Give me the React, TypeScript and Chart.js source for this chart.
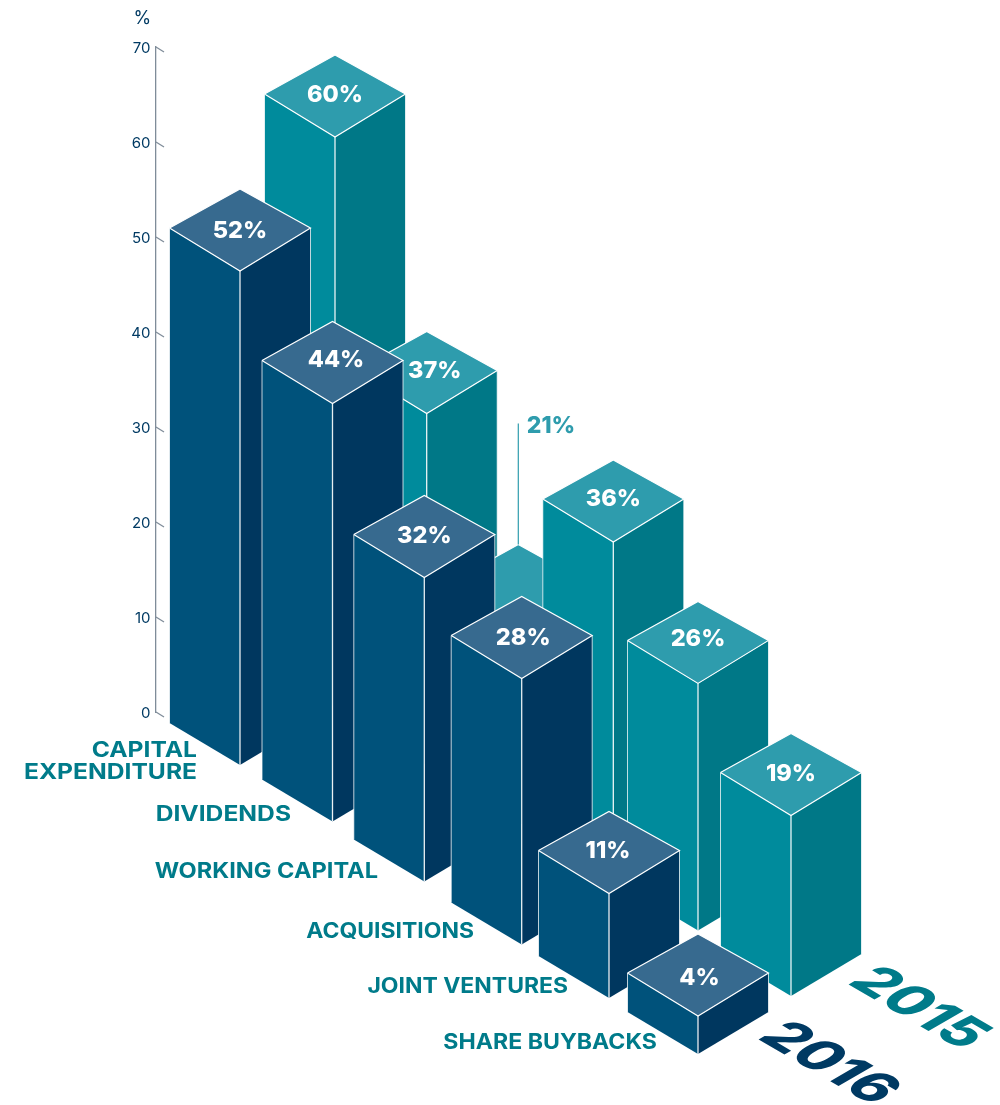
import React, { useEffect, useRef } from "react";
import { Chart, registerables, BarController } from "chart.js";

Chart.register(...registerables);

// Survey data: share of respondents per use of cash, by year
const categories = [
  ["CAPITAL", "EXPENDITURE"],
  "DIVIDENDS",
  "WORKING CAPITAL",
  "ACQUISITIONS",
  "JOINT VENTURES",
  "SHARE BUYBACKS",
];
const values2015 = [60, 37, 21, 36, 26, 19];
const values2016 = [52, 44, 32, 28, 11, 4];
const yTicks = [0, 10, 20, 30, 40, 50, 60, 70];

// Isometric layout
const FONT = "Inter, 'Open Sans', sans-serif";
const TEAL_TEXT = "#007B8A";
const NAVY_TEXT = "#003A63";
const HALF_W = 70.5;
const SIDE_RISE = 43; // front corner of the lid to its side corners
const LID_DEPTH = 82; // front corner of the lid to its back corner
const FLOOR_SIDE_RISE = 42; // front corner of the footprint to its side corners
const ROW_DROP = 57.6; // floor drop from one row to the next
const AXIS_LEFT = 156;
const CATEGORY_STEP = 91.6;

type Look = {
  left: string;
  right: string;
  top: string;
  shiftX: number;
  drop: number;
  rowX: number[];
  rowY: number[];
  labelX: number[];
  labelY: number[];
  callout: number;
};

const look2016: Look = {
  left: "#00527B",
  right: "#00375F",
  top: "#376A8F",
  shiftX: 38.2,
  drop: 53,
  rowX: [0, 0.9, 1.1, 6.9, 2.6, 0],
  rowY: [0, -1.1, 1.3, 6.7, 2.6, 1],
  labelX: [0, 3.5, 0, 1.5, -1, 1.5],
  labelY: [2, -2, 0, 1, -1, 4],
  callout: -1,
};
const look2015: Look = {
  left: "#008B9C",
  right: "#007887",
  top: "#2E9CAD",
  shiftX: 133.2,
  drop: -4,
  rowX: [0, 0.1, 0.1, 3.5, -3.4, -2],
  rowY: [-1, -0.6, 2.8, 3.2, -8, 0],
  labelX: [0, 8, 0, 0, 0, 0],
  labelY: [0, -1, 0, -1, -2, 0],
  callout: 2,
};

// Right end, lift and horizontal stretch of each category caption, relative to the row's front corner
const captionOffset = [
  [43, 3, 1.145],
  [41.5, 7, 1.145],
  [46.3, 10, 1.097],
  [47.7, 13, 1.068],
  [41, 11, 1.068],
  [41, 11, 1.075],
];

function drawPoly(ctx: CanvasRenderingContext2D, pts: number[][], fill: string) {
  ctx.beginPath();
  pts.forEach(([x, y], i) => (i ? ctx.lineTo(x, y) : ctx.moveTo(x, y)));
  ctx.closePath();
  ctx.fillStyle = fill;
  ctx.fill();
}

function drawLine(ctx: CanvasRenderingContext2D, pts: number[][], color: string, width: number) {
  ctx.beginPath();
  pts.forEach(([x, y], i) => (i ? ctx.lineTo(x, y) : ctx.moveTo(x, y)));
  ctx.strokeStyle = color;
  ctx.lineWidth = width;
  ctx.stroke();
}

function frontCorner(bar: any, row: number, look: Look) {
  const x = bar.x + look.shiftX + look.rowX[row];
  const floor = bar.base + look.drop + row * ROW_DROP + look.rowY[row];
  return { x, floor, lid: floor - (bar.base - bar.y) };
}

// Bar controller that paints each element as an isometric prism
class IsoBarController extends BarController {
  static id = "isoBar";
  static defaults = { ...BarController.defaults };
  static overrides = BarController.overrides;

  draw() {
    const ctx = this.chart.ctx;
    const ds: any = this.getDataset();
    const look: Look = ds.look;
    this._cachedMeta.data.forEach((bar: any, row: number) => {
      const { x, floor, lid } = frontCorner(bar, row, look);
      const l = x - HALF_W;
      const r = x + HALF_W;
      const side = lid - SIDE_RISE;
      const back = lid - LID_DEPTH;
      const floorSide = floor - FLOOR_SIDE_RISE;

      drawPoly(ctx, [[l, side], [x, lid], [x, floor], [l, floorSide]], look.left);
      drawPoly(ctx, [[r, side], [x, lid], [x, floor], [r, floorSide]], look.right);
      drawPoly(ctx, [[l, side], [x, back], [r, side], [x, lid]], look.top);

      drawLine(ctx, [[l, floorSide], [l, side]], "rgba(255,255,255,0.75)", 1);
      drawLine(ctx, [[r, floorSide], [r, side]], "rgba(255,255,255,0.75)", 1);
      drawLine(ctx, [[x, lid], [x, floor]], "rgba(255,255,255,0.9)", 1.3);
      drawLine(ctx, [[l, side], [x, back], [r, side], [x, lid], [l, side]], "#FFFFFF", 1.2);

      const value = `${ds.data[row]}%`;
      ctx.textBaseline = "middle";
      if (row === look.callout) {
        // Lid too crowded for its figure: pull it out on a leader
        const leaderTop = back - 121;
        drawLine(ctx, [[x, back], [x, leaderTop]], look.top, 1.2);
        ctx.font = `800 23px ${FONT}`;
        ctx.textAlign = "left";
        ctx.fillStyle = look.top;
        ctx.fillText(value, x + 8.5, leaderTop + 3);
      } else {
        ctx.font = `800 23.5px ${FONT}`;
        ctx.textAlign = "center";
        ctx.fillStyle = "#FFFFFF";
        ctx.fillText(value, x + look.labelX[row], side + 1 + look.labelY[row]);
      }
    });
  }
}
Chart.register(IsoBarController);

// Slanted ticks, percent unit, category captions and the year marks on the floor
const annotations = {
  id: "isoAnnotations",
  afterDraw(chart: any) {
    const { ctx, scales } = chart;
    const y = scales.y;
    ctx.save();

    y.ticks.forEach((_: any, i: number) => {
      const py = y.getPixelForTick(i);
      drawLine(ctx, [[AXIS_LEFT, py], [AXIS_LEFT + 8, py + 5]], "#7F8C99", 1.3);
    });

    ctx.font = `400 18px ${FONT}`;
    ctx.fillStyle = NAVY_TEXT;
    ctx.textAlign = "left";
    ctx.textBaseline = "middle";
    ctx.fillText("%", 133.5, 18.5);

    const meta2016 = chart.getDatasetMeta(1);
    ctx.font = `700 21.5px ${FONT}`;
    ctx.fillStyle = TEAL_TEXT;
    ctx.textAlign = "right";
    chart.data.labels.forEach((label: string | string[], row: number) => {
      const { x, floor } = frontCorner(meta2016.data[row], row, look2016);
      const lines = Array.isArray(label) ? label : [label];
      const [back, lift, stretch] = captionOffset[row];
      const cy = floor - lift;
      ctx.save();
      ctx.translate(x - back, 0);
      ctx.scale(stretch, 1);
      lines.forEach((line, i) => {
        ctx.fillText(line, 0, cy + (i - (lines.length - 1) / 2) * 22);
      });
      ctx.restore();
    });

    const yearMarks = [
      { meta: chart.getDatasetMeta(0), look: look2015, color: TEAL_TEXT, dx: 55, dy: -13 },
      { meta: meta2016, look: look2016, color: NAVY_TEXT, dx: 58, dy: -16 },
    ];
    yearMarks.forEach(({ meta, look, color, dx, dy }) => {
      const { x, floor } = frontCorner(meta.data[5], 5, look);
      ctx.save();
      ctx.transform(0.86, 0.5, -0.86, 0.5, x + dx, floor + dy);
      ctx.font = `800 56px ${FONT}`;
      ctx.fillStyle = color;
      ctx.textAlign = "left";
      ctx.textBaseline = "alphabetic";
      ctx.fillText(meta.label, 0, 0);
      ctx.restore();
    });
    ctx.restore();
  },
};

export default function App() {
  const ref = useRef<HTMLCanvasElement>(null);

  useEffect(() => {
    const chart = new Chart(ref.current as HTMLCanvasElement, {
      type: "isoBar" as any,
      data: {
        labels: categories as any,
        datasets: [
          { label: "2015", data: values2015, look: look2015, order: 2, grouped: false, clip: false } as any,
          { label: "2016", data: values2016, look: look2016, order: 1, grouped: false, clip: false } as any,
        ],
      },
      options: {
        animation: false,
        responsive: false,
        devicePixelRatio: 1,
        events: [],
        layout: {
          padding: { left: 0, top: 47, bottom: 393, right: 1000 - AXIS_LEFT - CATEGORY_STEP * categories.length },
        },
        plugins: { legend: { display: false }, tooltip: { enabled: false } },
        scales: {
          x: { display: false },
          y: {
            min: yTicks[0],
            max: yTicks[yTicks.length - 1],
            afterFit: (scale: any) => {
              scale.width = AXIS_LEFT;
            },
            afterBuildTicks: (scale: any) => {
              scale.ticks = yTicks.map((value) => ({ value }));
            },
            grid: { display: false, drawTicks: false },
            border: { display: true, color: "#7F8C99", width: 1.3 },
            ticks: {
              padding: 5.5,
              labelOffset: 1.5,
              color: NAVY_TEXT,
              font: { family: FONT, size: 15, weight: 400 },
            },
          },
        },
      },
      plugins: [annotations],
    } as any);
    return () => chart.destroy();
  }, []);

  return (
    <div style={{ position: "absolute", left: 0, top: 0, width: 1000, height: 1105, background: "#fff", overflow: "hidden" }}>
      <canvas ref={ref} width={1000} height={1105} style={{ display: "block" }} />
    </div>
  );
}
